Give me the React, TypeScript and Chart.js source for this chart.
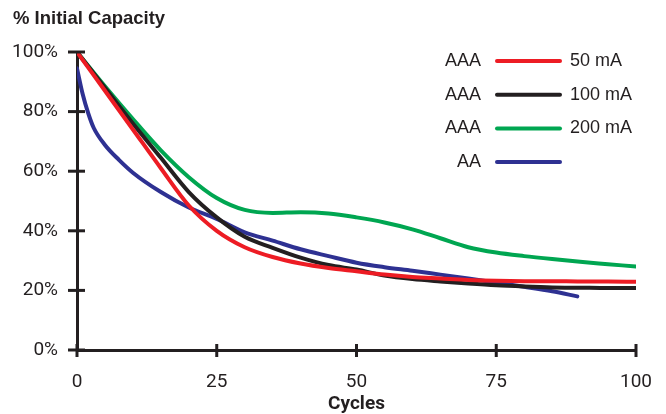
import React, { useEffect, useRef } from "react";
import { Chart, registerables } from "chart.js";
Chart.register(...registerables);

const cycles = [0, 5, 10, 15, 20, 25, 30, 35, 40, 45, 50, 55, 60, 65, 70, 75, 80, 85, 90, 95, 100];
const aaa50 = [100, 87, 74, 61, 48.5, 40, 34.5, 31.2, 29, 27.5, 26.4, 25.3, 24.5, 24, 23.5, 23.2, 23.1, 23.1, 23, 23, 22.9];
const aaa100 = [100, 88, 76, 64.5, 53, 44.5, 38, 34.3, 31, 28.5, 27, 25, 23.8, 23, 22.3, 21.7, 21.3, 21, 20.9, 20.8, 20.8];
const aaa200 = [100, 88.5, 77.5, 67, 58, 51, 47, 46, 46.2, 45.8, 44.5, 42.8, 40.5, 37.5, 34.5, 32.7, 31.5, 30.5, 29.6, 28.8, 28];
const aaCycles = [0, 1, 2, 3, 5, 7.5, 10, 15, 20, 25, 30, 35, 40, 45, 50, 55, 60, 65, 70, 75, 80, 85, 89.5];
const aa = [94.5, 86, 79.5, 74.5, 68.8, 63.8, 59.5, 53, 47.8, 44, 39.5, 36.7, 33.8, 31.5, 29.3, 27.8, 26.6, 25.3, 24, 22.6, 21.2, 19.7, 18];

const batteryTypes = ["AAA", "AAA", "AAA", "AA"];
const currents = ["50 mA", "100 mA", "200 mA", ""];
const colors = ["#ED1C24", "#231F20", "#00A651", "#2E3192"];
const xTicks = [0, 25, 50, 75, 100];
const chartTitle = "% Initial Capacity";
const xTitle = "Cycles";

const TICKFONT = "Roboto, 'Liberation Sans', sans-serif";
const SANS = "'Liberation Sans', Arial, sans-serif";
const INK = "#231F20";

const pts = (xs: number[], ys: number[]) => xs.map((x, i) => ({ x, y: ys[i] }));

export default function App() {
  const ref = useRef<HTMLCanvasElement | null>(null);
  useEffect(() => {
    if (!ref.current) return;
    const series = [pts(cycles, aaa50), pts(cycles, aaa100), pts(cycles, aaa200), pts(aaCycles, aa)];
    const decor = {
      id: "decor",
      afterDraw(chart: any) {
        const ctx = chart.ctx;
        const xs = chart.scales.x;
        const ys = chart.scales.y;
        const x0 = xs.getPixelForValue(0);
        const y0 = ys.getPixelForValue(0);
        ctx.save();
        ctx.strokeStyle = INK;
        ctx.lineWidth = 3;
        ys.ticks.forEach((t: any) => {
          const y = ys.getPixelForValue(t.value);
          ctx.beginPath();
          ctx.moveTo(x0 - 9, y);
          ctx.lineTo(x0 + 8, y);
          ctx.stroke();
        });
        xs.ticks.forEach((t: any) => {
          const x = xs.getPixelForValue(t.value);
          ctx.beginPath();
          ctx.moveTo(x, y0 - 6);
          ctx.lineTo(x, y0 + 7);
          ctx.stroke();
        });
        // title
        ctx.fillStyle = INK;
        ctx.font = "bold 18.5px " + SANS;
        ctx.textAlign = "left";
        ctx.textBaseline = "middle";
        ctx.fillText(chartTitle, 13, 19);
        // legend
        ctx.font = "18px " + SANS;
        batteryTypes.forEach((b, i) => {
          const y = 61 + i * 33.7;
          ctx.fillStyle = INK;
          ctx.textAlign = "right";
          ctx.fillText(b, 481, y);
          ctx.strokeStyle = colors[i];
          ctx.lineWidth = 4;
          ctx.lineCap = "round";
          ctx.beginPath();
          ctx.moveTo(497, y);
          ctx.lineTo(560, y);
          ctx.stroke();
          ctx.textAlign = "left";
          ctx.fillStyle = INK;
          if (currents[i]) ctx.fillText(currents[i], 570, y);
        });
        ctx.restore();
      },
    };
    const chart = new Chart(ref.current, {
      type: "line",
      data: {
        datasets: series.map((d, i) => ({
          label: batteryTypes[i] + " " + currents[i],
          data: d,
          borderColor: colors[i],
          backgroundColor: colors[i],
          borderWidth: 4,
          pointRadius: 0,
          cubicInterpolationMode: "monotone" as const,
          borderCapStyle: "round" as const,
          fill: false,
        })),
      },
      options: {
        animation: false,
        responsive: false,
        maintainAspectRatio: false,
        layout: { padding: { top: 52, right: 30, left: 0, bottom: 0 } },
        plugins: { legend: { display: false }, tooltip: { enabled: false }, title: { display: false } },
        scales: {
          x: {
            type: "linear",
            min: 0,
            max: 100,
            afterBuildTicks: (s: any) => { s.ticks = xTicks.map((v) => ({ value: v })); },
            afterFit: (s: any) => { s.height = 64; s.paddingLeft = 0; s.paddingRight = 0; },
            grid: { display: false, drawTicks: false },
            border: { display: true, color: INK, width: 3 },
            ticks: { padding: 21, color: INK, font: { family: TICKFONT, size: 19 } },
            title: { display: true, text: xTitle, color: INK, font: { family: TICKFONT, size: 19, weight: "bold" }, padding: { top: 0, bottom: -2 } },
          },
          y: {
            type: "linear",
            min: 0,
            max: 100,
            afterFit: (s: any) => { s.width = 77; s.paddingTop = 0; s.paddingBottom = 0; },
            grid: { display: false, drawTicks: false },
            border: { display: true, color: INK, width: 3 },
            ticks: { stepSize: 20, padding: 19, color: INK, font: { family: TICKFONT, size: 19 }, callback: (v: any) => v + "%" },
          },
        },
      },
      plugins: [decor],
    } as any);
    return () => chart.destroy();
  }, []);
  return (
    <div style={{ position: "fixed", left: 0, top: 0, width: 666, height: 414, background: "#fff" }}>
      <canvas ref={ref} width={666} height={414} style={{ width: 666, height: 414 }} />
    </div>
  );
}
